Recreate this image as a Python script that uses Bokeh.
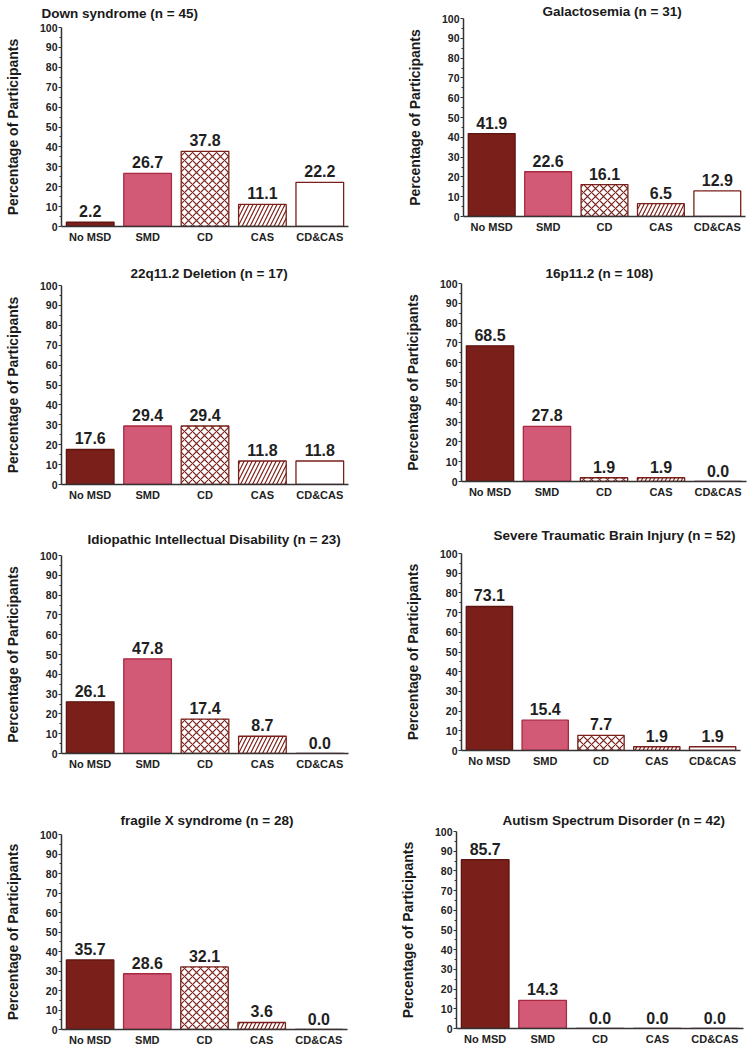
from bokeh.plotting import figure
from bokeh.models import Range1d, FactorRange, ColumnDataSource, Title, FixedTicker
from bokeh.layouts import column, row
from bokeh.embed import file_html
from bokeh.resources import INLINE
from bokeh.core.properties import value

# ---------------- data ----------------
categories = ["No MSD", "SMD", "CD", "CAS", "CD&CAS"]
titles = [
    "Down syndrome (n = 45)",
    "Galactosemia (n = 31)",
    "22q11.2 Deletion (n = 17)",
    "16p11.2 (n = 108)",
    "Idiopathic Intellectual Disability (n = 23)",
    "Severe Traumatic Brain Injury (n = 52)",
    "fragile X syndrome (n = 28)",
    "Autism Spectrum Disorder (n = 42)",
]
down_syndrome = [2.2, 26.7, 37.8, 11.1, 22.2]
galactosemia = [41.9, 22.6, 16.1, 6.5, 12.9]
deletion_22q = [17.6, 29.4, 29.4, 11.8, 11.8]
p16_11 = [68.5, 27.8, 1.9, 1.9, 0.0]
idiopathic_id = [26.1, 47.8, 17.4, 8.7, 0.0]
severe_tbi = [73.1, 15.4, 7.7, 1.9, 1.9]
fragile_x = [35.7, 28.6, 32.1, 3.6, 0.0]
autism = [85.7, 14.3, 0.0, 0.0, 0.0]
panel_values = [down_syndrome, galactosemia, deletion_22q, p16_11,
                idiopathic_id, severe_tbi, fragile_x, autism]
y_ticks = list(range(0, 101, 10))
y_minor = list(range(5, 100, 10))
y_label = "Percentage of Participants"

# ---------------- styles ----------------
FONT = "Liberation Sans"
MAROON = "#7A1F19"
bar_fill = ["#7A1F19", "#D35A77", "#FFFFFF", "#FFFFFF", "#FFFFFF"]
bar_line = ["#5E1410", "#A8283F", MAROON, MAROON, MAROON]
bar_hatch = [" ", " ", "x", "/", " "]
bar_hscale = [8, 8, 8, 8, 8]

# (width, height, border_left, border_right, border_top, border_bottom,
#  title_offset, title_standoff, title_valign)
panel_layout = [
    (375, 255, 61, 27, 27, 29, -20, 9, "top"),
    (374, 255, 88, 4, 18, 39, 79, 0, "bottom"),
    (375, 257, 61, 27, 30, 28, 69, 10, "bottom"),
    (374, 257, 86, 3, 28, 31, 84, 6, "bottom"),
    (375, 288, 61, 27, 43, 47, 26, 18, "bottom"),
    (374, 288, 86, 9, 41, 50, 32, 22, "bottom"),
    (375, 248, 61, 28, 34, 17, 59, 14, "bottom"),
    (374, 248, 81, 6, 31, 20, 46, 8, "bottom"),
]


def make_panel(title, vals, lay):
    w, h, bl, br, bt, bb, toff, tstand, tva = lay
    p = figure(
        width=w, height=h,
        x_range=FactorRange(*categories, range_padding=0, factor_padding=0),
        y_range=Range1d(0, 100),
        output_backend="svg", toolbar_location=None,
        min_border_left=bl, min_border_right=br,
        min_border_top=bt, min_border_bottom=bb,
        frame_align=False,
    )
    p.title = Title(text=title, align="left", offset=toff, standoff=tstand,
                    vertical_align=tva,
                    text_font=FONT, text_font_size="13.5px",
                    text_font_style="bold", text_color="#1a1a1a")
    src = ColumnDataSource(dict(
        cat=categories, val=vals, lab=[f"{v:.1f}" for v in vals],
        fill=bar_fill, line=bar_line, hatch=bar_hatch, hscale=bar_hscale,
    ))
    p.vbar(x="cat", top="val", width=0.83, source=src,
           fill_color="fill", line_color="line", line_width=1.3,
           hatch_pattern="hatch", hatch_color=MAROON, hatch_scale="hscale",
           hatch_weight=1.2)
    p.text(x="cat", y="val", text="lab", source=src,
           text_align="center", text_baseline="alphabetic", y_offset=-11,
           text_font=value(FONT), text_font_size="16px",
           text_font_style="bold", text_color="#1f1f1f")

    p.xgrid.visible = False
    p.ygrid.visible = False
    p.outline_line_color = None
    p.background_fill_color = "white"
    p.border_fill_color = "white"

    ya = p.yaxis[0]
    ya.ticker = FixedTicker(ticks=y_ticks, minor_ticks=y_minor)
    ya.axis_label = y_label
    ya.axis_label_standoff = 16
    ya.axis_label_text_font = FONT
    ya.axis_label_text_font_size = "14px"
    ya.axis_label_text_font_style = "bold"
    ya.axis_label_text_color = "#1a1a1a"
    ya.major_label_text_font = FONT
    ya.major_label_text_font_size = "10.5px"
    ya.major_label_text_font_style = "bold"
    ya.major_label_text_color = "#222222"
    ya.major_label_standoff = 1
    ya.major_tick_out = 3
    ya.major_tick_in = 0
    ya.minor_tick_out = 2
    ya.minor_tick_in = 0
    ya.axis_line_color = "#333333"
    ya.axis_line_width = 1.5
    ya.major_tick_line_color = "#333333"
    ya.minor_tick_line_color = "#333333"

    xa = p.xaxis[0]
    xa.major_tick_out = 0
    xa.major_tick_in = 0
    xa.minor_tick_line_color = None
    xa.major_label_standoff = 4
    xa.major_label_text_font = FONT
    xa.major_label_text_font_size = "11px"
    xa.major_label_text_font_style = "bold"
    xa.major_label_text_color = "#222222"
    xa.axis_line_color = "#333333"
    xa.axis_line_width = 1.5
    return p


panels = [make_panel(t, v, l) for t, v, l in zip(titles, panel_values, panel_layout)]
layout = column(
    row(panels[0], panels[1]),
    row(panels[2], panels[3]),
    row(panels[4], panels[5]),
    row(panels[6], panels[7]),
)

open("out.html", "w").write(file_html(layout, INLINE))
